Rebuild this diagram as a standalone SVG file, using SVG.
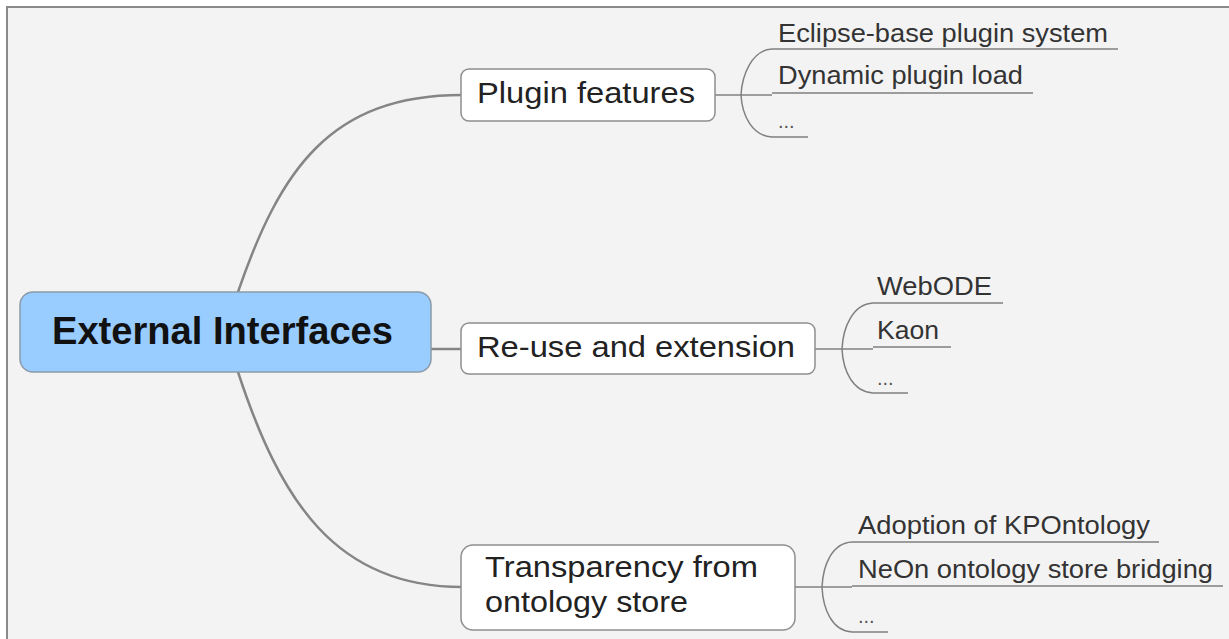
<svg xmlns="http://www.w3.org/2000/svg" width="1229" height="639" viewBox="0 0 1229 639">
<style>
.bg{fill:#f3f3f3;stroke:#8a8a8a;stroke-width:2}
.main{fill:none;stroke:#858585;stroke-width:2.5}
.sub{fill:none;stroke:#808080;stroke-width:1.5}
.box{fill:#ffffff;stroke:#8f8f8f;stroke-width:1.5}
.root{fill:#99ccff;stroke:#8a9aa8;stroke-width:1.5}
.t{font-family:"Liberation Sans",Arial,sans-serif;fill:#222}
.rt{font-size:38px;font-weight:bold;fill:#111}
.bt{font-size:30px}
.lt{font-size:25px;fill:#333}
.dots{font-size:20px;fill:#555}
</style>
<rect x="0" y="0" width="1229" height="639" fill="#ffffff"/>
<rect class="bg" x="7" y="7" width="1240" height="650"/>
<g id="connectors">
  <path class="main" d="M238,292 C280,170 330,95 462,95"/>
  <path class="main" d="M431,349 L462,349"/>
  <path class="main" d="M238,372 C280,500 335,587 462,587"/>
  <path class="sub" d="M715,95 L772,95"/>
  <path class="sub" d="M772,49 C752,50 742,75 741,95 C742,115 752,136 772,137"/>
  <path class="sub" d="M772,49 L1118,49 M772,93 L1033,93 M772,137 L808,137"/>
  <path class="sub" d="M815,349 L873,349"/>
  <path class="sub" d="M873,303 C853,304 843,327 842,349 C843,371 853,392 873,393"/>
  <path class="sub" d="M873,303 L1003,303 M873,347 L951,347 M873,393 L908,393"/>
  <path class="sub" d="M795,587 L852,587"/>
  <path class="sub" d="M852,542 C832,543 823,565 822,587 C823,609 832,631 852,632"/>
  <path class="sub" d="M852,542 L1159,542 M852,586 L1223,586 M852,632 L888,632"/>
</g>
<g id="root">
  <rect class="root" x="20" y="292" width="411" height="80" rx="13"/>
  <text class="t rt" x="52" y="344" textLength="341" lengthAdjust="spacingAndGlyphs">External Interfaces</text>
</g>
<g id="plugin">
  <rect class="box" x="461" y="69" width="254" height="52" rx="8"/>
  <text class="t bt" x="477" y="103" textLength="218" lengthAdjust="spacingAndGlyphs">Plugin features</text>
</g>
<g id="reuse">
  <rect class="box" x="461" y="323" width="354" height="51" rx="8"/>
  <text class="t bt" x="477" y="357" textLength="318" lengthAdjust="spacingAndGlyphs">Re-use and extension</text>
</g>
<g id="transparency">
  <rect class="box" x="461" y="545" width="334" height="85" rx="12"/>
  <text class="t bt" x="485" y="577" textLength="273" lengthAdjust="spacingAndGlyphs">Transparency from</text>
  <text class="t bt" x="485" y="612" textLength="203" lengthAdjust="spacingAndGlyphs">ontology store</text>
</g>
<g id="eclipse"><text class="t lt" x="778" y="42" textLength="330" lengthAdjust="spacingAndGlyphs">Eclipse-base plugin system</text></g>
<g id="dynamic"><text class="t lt" x="778" y="84" textLength="245" lengthAdjust="spacingAndGlyphs">Dynamic plugin load</text></g>
<g id="plugin-more"><text class="t dots" x="778" y="128">...</text></g>
<g id="webode"><text class="t lt" x="877" y="295" textLength="115" lengthAdjust="spacingAndGlyphs">WebODE</text></g>
<g id="kaon"><text class="t lt" x="877" y="339" textLength="62" lengthAdjust="spacingAndGlyphs">Kaon</text></g>
<g id="reuse-more"><text class="t dots" x="877" y="385">...</text></g>
<g id="kpontology"><text class="t lt" x="858" y="534" textLength="292" lengthAdjust="spacingAndGlyphs">Adoption of KPOntology</text></g>
<g id="neon"><text class="t lt" x="858" y="578" textLength="355" lengthAdjust="spacingAndGlyphs">NeOn ontology store bridging</text></g>
<g id="transparency-more"><text class="t dots" x="858" y="623">...</text></g>
</svg>
